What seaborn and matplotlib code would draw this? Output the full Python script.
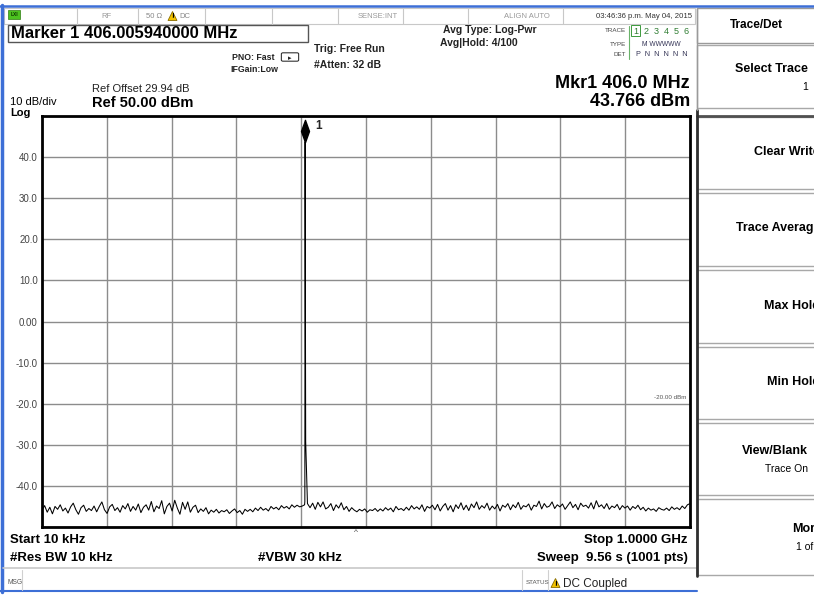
import numpy as np
import pandas as pd
import matplotlib
matplotlib.use("Agg")
import matplotlib.pyplot as plt
import matplotlib.patches as mpatches
import matplotlib.transforms as mtransforms
import seaborn as sns

W, H = 814, 598

# ---- sweep data -------------------------------------------------------
start_mhz, stop_mhz = 0.01, 1000.0

noise_dbm = [
    -45.9, -44.8, -46.4, -45.2, -46.8, -45.0, -45.7, -44.6, -46.1, -45.4,
    -46.6, -45.1, -44.2, -45.8, -46.9, -45.3, -44.7, -46.2, -45.5, -46.0,
    -44.9, -46.3, -45.0, -43.9, -45.8, -46.7, -45.1, -44.5, -46.0, -45.3,
    -46.4, -44.8, -45.6, -44.3, -46.2, -45.0, -45.9, -44.4, -46.5, -45.2,
    -44.6, -45.9, -43.8, -46.3, -44.9, -45.5, -43.6, -46.8, -45.0, -44.2,
    -46.1, -43.5, -45.4, -46.9, -44.0, -45.7, -43.9, -46.4, -45.2, -44.7,
    -46.5, -45.6, -46.2, -45.3, -46.8, -45.9, -46.4, -45.7, -46.6, -46.0,
    -46.3, -45.8, -46.7, -46.1, -45.6, -46.5, -46.0, -46.9, -45.7, -46.2,
    -45.7, -46.3, -45.4, -46.0, -45.2, -45.9, -45.5, -46.1, -45.0, -45.6,
    -45.2, -45.8, -44.8, -45.4, -45.0, -45.6, -44.6, -45.2, -44.7, -45.1,
    -44.9, -43.8, -44.3, -45.3, -44.2, -45.7, -44.0, -45.1, -43.9, -45.6,
    -45.2, -44.3, -46.0, -44.6, -45.4, -44.1, -45.8, -45.0, -46.2, -45.3,
    -45.9, -46.3, -45.7, -46.1, -45.6, -46.4, -45.8, -46.0, -45.5, -46.2,
    -45.6, -46.1, -45.3, -45.9, -45.4, -46.3, -45.0, -45.8, -45.5, -46.0,
    -45.2, -45.9, -44.8, -45.6, -45.1, -45.7, -44.6, -46.2, -45.0, -45.4,
    -44.7, -45.8, -44.5, -46.1, -45.0, -44.3, -45.9, -44.8, -46.3, -44.6,
    -45.5, -44.1, -45.8, -44.7, -46.0, -44.4, -45.3, -43.9, -45.7, -44.8,
    -45.4, -44.2, -45.9, -44.9, -45.6, -44.5, -46.1, -44.7, -45.2, -44.3,
    -45.8, -44.6, -45.3, -44.0, -45.7, -44.8, -45.1, -44.4, -45.9, -44.7,
    -45.0, -43.7, -45.6, -44.3, -45.2, -44.9, -43.9, -45.5, -44.6, -45.1,
    -44.4, -45.7, -44.8, -43.9, -45.3, -44.5, -45.8, -44.2, -45.0, -44.7,
    -45.4, -44.1, -45.6, -43.6, -45.1, -44.6, -45.5, -44.3, -45.7, -44.9,
    -45.3, -44.5, -45.8, -44.8, -45.4, -44.9, -45.9, -45.0, -45.5, -44.7,
    -45.8, -45.2, -46.1, -45.4, -45.9, -45.6, -46.2, -45.3, -45.7, -45.9,
    -45.4, -46.0, -45.1, -45.7, -45.3, -45.8, -44.9, -45.5, -44.6, -44.3,
]
noise_mhz = np.linspace(start_mhz, stop_mhz, len(noise_dbm))

# carrier bins around the marker
carrier_mhz = [405.2, 406.00594, 406.9]
carrier_dbm = [-44.6, 43.766, -29.2]

marker_mhz = 406.00594
marker_dbm = 43.766

y_ticks = [50, 40, 30, 20, 10, 0, -10, -20, -30, -40, -50]
y_tick_labels = ["", "40.0", "30.0", "20.0", "10.0", "0.00",
                 "-10.0", "-20.0", "-30.0", "-40.0", ""]
x_ticks = [0, 100, 200, 300, 400, 500, 600, 700, 800, 900, 1000]

softkeys = [
    ("Select Trace", "1", 45, 108),
    ("Clear Write", "", 117, 189),
    ("Trace Average", "", 193, 266),
    ("Max Hold", "", 270, 343),
    ("Min Hold", "", 347, 419),
    ("View/Blank", "Trace On", 423, 495),
    ("More", "1 of 3", 499, 575),
]

trace = pd.DataFrame({
    "freq_mhz": np.concatenate([noise_mhz, carrier_mhz]),
    "level_dbm": np.concatenate([noise_dbm, carrier_dbm]),
}).sort_values("freq_mhz").reset_index(drop=True)

# ---- figure -------------------------------------------------------------
sns.set_theme(style="white")
plt.rcParams["font.family"] = ["Liberation Sans", "DejaVu Sans"]

fig = plt.figure(figsize=(W / 100, H / 100), dpi=100)
fig.patch.set_facecolor("white")


def fx(x):
    return x / W


def fy(y):
    return 1 - y / H


def txt(x, y, s, size, weight="normal", ha="left", va="center",
        color="black", **kw):
    return fig.text(fx(x), fy(y), s, fontsize=size, fontweight=weight,
                    ha=ha, va=va, color=color, **kw)


def rect(x0, y0, x1, y1, fc="none", ec="#b0b0b0", lw=1.0, z=0):
    r = mpatches.Rectangle((fx(x0), fy(y1)), (x1 - x0) / W, (y1 - y0) / H,
                           transform=fig.transFigure, facecolor=fc,
                           edgecolor=ec, lw=lw, zorder=z)
    fig.add_artist(r)
    return r


def hline(x0, x1, y, color, lw=1.0):
    fig.add_artist(plt.Line2D([fx(x0), fx(x1)], [fy(y), fy(y)],
                              transform=fig.transFigure, color=color, lw=lw))


def vline(x, y0, y1, color, lw=1.0):
    fig.add_artist(plt.Line2D([fx(x), fx(x)], [fy(y0), fy(y1)],
                              transform=fig.transFigure, color=color, lw=lw))


def warn(x, y, size=9):
    tri = mpatches.Polygon([(fx(x), fy(y + size / 2)),
                            (fx(x + size), fy(y + size / 2)),
                            (fx(x + size / 2), fy(y - size / 2))],
                           closed=True, transform=fig.transFigure,
                           facecolor="#f2c200", edgecolor="#8a6d00", lw=0.6)
    fig.add_artist(tri)
    txt(x + size / 2, y + 1, "!", 6, "bold", ha="center")


# ---- spectrum axes ------------------------------------------------------
ax = fig.add_axes([fx(42), fy(527), (690 - 42) / W, (527 - 116) / H])
sns.lineplot(data=trace, x="freq_mhz", y="level_dbm", ax=ax,
             color="black", lw=0.75, estimator=None, sort=True, zorder=3)
ax.set_xlim(0, 1000)
ax.set_ylim(-50, 50)
ax.set_xticks(x_ticks)
ax.set_yticks(y_ticks)
ax.set_yticklabels(y_tick_labels, fontsize=7, color="#444444")
ax.tick_params(axis="both", length=0, pad=3, labelbottom=False)
ax.grid(True, color="#8c8c8c", lw=1.0)
ax.set_xlabel("")
ax.set_ylabel("")
for sp in ax.spines.values():
    sp.set_color("black")
    sp.set_linewidth(2.0)

# marker 1 diamond sitting on the peak
diamond = [(0, -1), (0.36, 0), (0, 1), (-0.36, 0), (0, -1)]
mk_tr = mtransforms.offset_copy(ax.transData, fig=fig, y=7.6, units="points")
ax.plot([marker_mhz], [marker_dbm], marker=diamond, ms=16, color="black",
        ls="none", transform=mk_tr, clip_on=False, zorder=5)
lbl_tr = mtransforms.offset_copy(ax.transData, fig=fig, x=7, y=11,
                                 units="points")
ax.text(marker_mhz, marker_dbm, "1", transform=lbl_tr, fontsize=8.5,
        fontweight="bold", ha="left", va="center", clip_on=False, zorder=6,
        bbox=dict(facecolor="white", edgecolor="none", pad=1.5))

ax.text(995, -19.2, "-20.00 dBm", fontsize=4.5, color="#555555",
        ha="right", va="bottom")

# ---- outer frame -------------------------------------------------------
vline(1.5, 5, 592, "#3d6fd6", lw=2.5)
hline(0, W, 5.5, "#3d6fd6", lw=1.8)
hline(0, 697, 591, "#3d6fd6", lw=1.5)

# ---- status bar --------------------------------------------------------
rect(4, 8, 695, 24, fc="white", ec="#c8c8c8", lw=0.8)
for xd in [77, 138, 205, 272, 338, 403, 468, 563]:
    vline(xd, 8, 24, "#c8c8c8", lw=0.8)
rect(8, 9.5, 20, 18.5, fc="#4cc21f", ec="#2f7d12", lw=0.5, z=2)
txt(14, 14, "LXI", 3.5, "bold", ha="center", color="#0b3300")
txt(106, 16, "RF", 5.5, color="#999999", ha="center")
txt(146, 16, "50 Ω", 5.5, color="#888888")
warn(168, 16, size=9)
txt(179, 16, "DC", 5.5, color="#888888")
txt(378, 16, "SENSE:INT", 5.5, color="#999999", ha="center")
txt(527, 16, "ALIGN AUTO", 5.5, color="#999999", ha="center")
txt(692, 16, "03:46:36 p.m. May 04, 2015", 5.6, color="#333333", ha="right")

# ---- measurement header -----------------------------------------------
rect(8, 25, 308, 42, fc="none", ec="#555555", lw=1.0)
txt(11, 33.5, "Marker 1 406.005940000 MHz", 12, "bold")

txt(275, 57, "PNO: Fast", 6.3, "bold", ha="right", color="#222222")
fig.add_artist(mpatches.FancyBboxPatch(
    (fx(283), fy(60)), 14 / W, 6 / H, boxstyle="round,pad=0.002",
    transform=fig.transFigure, facecolor="white", edgecolor="#333333",
    lw=0.8))
txt(290, 58, "▸", 5, ha="center", color="#222222",
    family=["DejaVu Sans"])
txt(278, 69, "IFGain:Low", 6.3, "bold", ha="right", color="#222222")

txt(314, 49, "Trig: Free Run", 7.5, "bold", color="#222222")
txt(314, 65, "#Atten: 32 dB", 7.5, "bold", color="#222222")

txt(443, 30, "Avg Type: Log-Pwr", 7.5, "bold", color="#222222")
txt(440, 43, "Avg|Hold: 4/100", 7.5, "bold", color="#222222")

txt(626, 31, "TRACE", 4.5, ha="right", color="#444444")
txt(626, 44, "TYPE", 4.5, ha="right", color="#444444")
txt(626, 54.5, "DET", 4.5, ha="right", color="#444444")
vline(629, 26, 59, "#6ab36a", lw=0.8)
rect(631, 25.5, 640, 36, fc="none", ec="#3c9a3c", lw=0.7)
txt(661.5, 31, "1  2  3  4  5  6", 6.5, ha="center", color="#2f7d32")
txt(661.5, 44, "M WWWWW", 4.8, ha="center", color="#333355")
txt(661.5, 54.5, "P  N  N  N  N  N", 5.2, ha="center", color="#333355")

txt(690, 83, "Mkr1 406.0 MHz", 13, "bold", ha="right")
txt(690, 101, "43.766 dBm", 13, "bold", ha="right")

txt(92, 89, "Ref Offset 29.94 dB", 8, color="#222222")
txt(92, 103, "Ref 50.00 dBm", 10.5, "bold")
txt(10, 101.5, "10 dB/div", 8)
txt(10, 113, "Log", 8, "bold")

# ---- footer ------------------------------------------------------------
txt(356, 533, "^", 6, ha="center", color="#444444")
txt(10, 540, "Start 10 kHz", 9.5, "bold")
txt(10, 558, "#Res BW 10 kHz", 9.5, "bold")
txt(258, 558, "#VBW 30 kHz", 9.5, "bold")
txt(688, 540, "Stop 1.0000 GHz", 9.5, "bold", ha="right")
txt(688, 558, "Sweep  9.56 s (1001 pts)", 9.5, "bold", ha="right")

hline(3, 697, 568, "#c8c8c8", lw=1.2)
vline(22, 570, 590, "#d0d0d0", lw=0.8)
vline(522, 570, 590, "#d0d0d0", lw=0.8)
vline(548, 570, 590, "#d0d0d0", lw=0.8)
txt(8, 583, "MSG", 4.8, color="#555555")
txt(526, 583, "STATUS", 4.5, color="#555555")
warn(551, 583, size=9)
txt(563, 584, "DC Coupled", 8.5, color="#222222")

# ---- softkey panel -----------------------------------------------------
rect(697, 8, 830, 43, fc="white", ec="#9a9a9a", lw=1.0)
txt(756, 25, "Trace/Det", 8.5, "bold", ha="center")
for label, sub, y0, y1 in softkeys:
    rect(697, y0, 830, y1, fc="white", ec="#a8a8a8", lw=1.0)
    if sub:
        txt(822 if label == "More" else 808, (y0 + y1) / 2 - 8, label, 9,
            "bold", ha="right")
        txt(822 if label == "More" else 808, (y0 + y1) / 2 + 10, sub, 7.5,
            ha="right")
    else:
        txt(820, (y0 + y1) / 2 - 1, label, 9, "bold", ha="right")
hline(697, 814, 116, "#505050", lw=2.0)
vline(697, 110, 576, "#303030", lw=2.0)
vline(697, 8, 110, "#9a9a9a", lw=1.0)

fig.savefig("out.png", dpi=100)
